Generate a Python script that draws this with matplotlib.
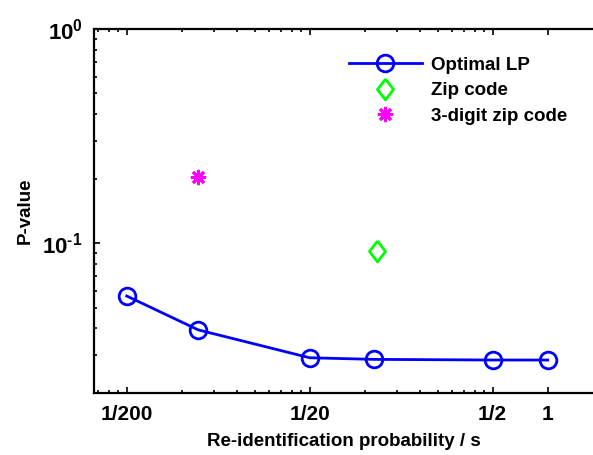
import numpy as np
import matplotlib.pyplot as plt
from matplotlib.ticker import FixedLocator, NullFormatter

plt.rcParams["font.family"] = ["Liberation Sans", "DejaVu Sans"]
plt.rcParams["font.weight"] = "bold"
plt.rcParams["mathtext.fontset"] = "custom"
plt.rcParams["mathtext.rm"] = "Liberation Sans:bold"
plt.rcParams["mathtext.bf"] = "Liberation Sans:bold"

# optimal LP curve
lp_x = [1 / 200, 0.0123, 1 / 20, 0.113, 1 / 2, 1.0]
lp_p = [0.0567, 0.0394, 0.0292, 0.0287, 0.0285, 0.0285]

# generalisation baselines
zip_x = [0.117]
zip_p = [0.0924]
zip3_x = [0.0123]
zip3_p = [0.2047]

x_ticks = [1 / 200, 1 / 20, 1 / 2, 1]
x_tick_labels = ["1/200", "1/20", "1/2", "1"]
x_minor = list(np.arange(0.0035, 0.0049, 0.0005)) + list(np.arange(0.01, 0.049, 0.005)) + list(np.arange(0.1, 0.49, 0.05))
y_ticks = [0.1, 1.0]
y_tick_labels = [r"$10^{\text{-}1}$", r"$10^{0}$"]

diamond = [(0, 1), (0.77, 0), (0, -1), (-0.77, 0), (0, 1)]

fig = plt.figure(figsize=(5.93, 4.55), dpi=100)
ax = fig.add_axes([0.1585, 0.1363, 0.8415, 0.80])

ax.plot(lp_x, lp_p, color=(0, 0, 1), lw=2, marker="o", markersize=12,
        markerfacecolor="none", markeredgewidth=2, label="Optimal LP")
ax.plot(zip_x, zip_p, linestyle="none", marker=diamond, markersize=15,
        markerfacecolor="none", markeredgecolor=(0, 1, 0), markeredgewidth=2,
        label="Zip code")
ax.plot(zip3_x, zip3_p, linestyle="none", marker=(8, 2, 0), markersize=11,
        markeredgecolor=(1, 0, 1), markeredgewidth=2, label="3-digit zip code")

ax.set_xscale("log")
ax.set_yscale("log")
ax.set_xlim(0.00331, 1.768)
ax.set_ylim(0.02, 1.0)

ax.xaxis.set_major_locator(FixedLocator(x_ticks))
ax.set_xticklabels(x_tick_labels)
ax.xaxis.set_minor_locator(FixedLocator(x_minor))
ax.xaxis.set_minor_formatter(NullFormatter())
ax.yaxis.set_major_locator(FixedLocator(y_ticks))
ax.set_yticklabels(y_tick_labels)
ax.yaxis.set_minor_formatter(NullFormatter())

for side in ["left", "bottom", "top"]:
    ax.spines[side].set_linewidth(1.6)
ax.spines["right"].set_visible(False)

ax.tick_params(which="both", direction="in", top=True, right=False,
               labelsize=15, width=1.2)
ax.tick_params(which="major", length=4, pad=9)
ax.tick_params(which="minor", length=2.5)
ax.tick_params(axis="y", which="major", labelsize=16, pad=8)

ax.set_xlabel("Re-identification probability / s", fontsize=13.5, fontweight="bold", labelpad=6)
ax.set_ylabel("P-value", fontsize=13.5, fontweight="bold", labelpad=6)

ax.legend(loc="upper right", bbox_to_anchor=(0.975, 0.96), frameon=False,
          fontsize=13.5, handlelength=3.9, handletextpad=0.5, labelspacing=0.45,
          borderaxespad=0.3)

fig.savefig("out.png", dpi=100)
